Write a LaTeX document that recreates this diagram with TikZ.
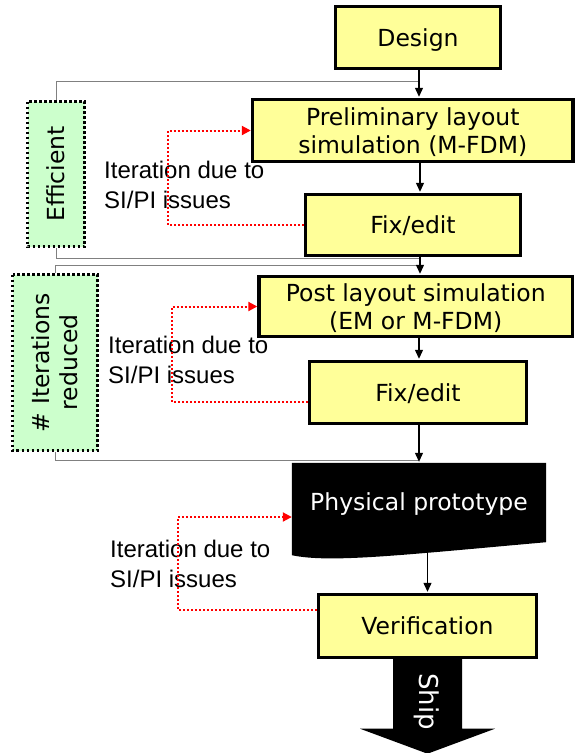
\documentclass[tikz,border=0pt]{standalone}
\usepackage{fontspec}
\setmainfont{DejaVu Sans}
\newfontfamily\labelfont{Liberation Sans}
\usetikzlibrary{arrows.meta,calc}
\definecolor{boxyellow}{HTML}{FFFF99}
\definecolor{notegreen}{HTML}{CCFFCC}
\definecolor{spangray}{HTML}{808080}

\begin{document}
\begin{tikzpicture}[x=1pt,y=-1pt,
  stepbox/.style={draw=black, line width=3.4pt, fill=boxyellow, inner sep=0pt,
    align=center, text depth=0pt, font=\fontsize{23.5}{28}\selectfont},
  notebox/.style={draw=black, line width=3pt, dash pattern=on 2.5pt off 2.5pt,
    fill=notegreen, inner sep=0pt, align=center, rotate=90,
    font=\fontsize{23.5}{28}\selectfont},
  flow/.style={line width=1.2pt, shorten >=1pt, -{Triangle[length=9pt,width=8pt]}},
  loopback/.style={draw=red, line width=2pt, dash pattern=on 2pt off 2pt,
    -{Triangle[length=9pt,width=9pt]}},
  span/.style={draw=spangray, line width=1pt},
  iterlabel/.style={align=left, inner sep=0pt, anchor=base west,
    font=\labelfont\fontsize{24}{30}\selectfont}
]
\useasboundingbox (0,0) rectangle (575,753);

% main flow
\node[stepbox, minimum width=165, minimum height=62] (design) at (418,37.5) {Design};
\node[stepbox, minimum width=320.5, minimum height=62] (prelim) at (412.75,130.5)
  {Preliminary layout\\simulation (M-FDM)};
\node[stepbox, minimum width=215, minimum height=61] (fix1) at (413,225) {Fix/edit};
\node[stepbox, minimum width=313.5, minimum height=60] (post) at (415.75,306.5)
  {Post layout simulation\\(EM or M-FDM)};
\node[stepbox, minimum width=217, minimum height=62] (fix2) at (418,392.5) {Fix/edit};

% physical prototype: document shape with a wavy lower edge
\node[inner sep=0pt, minimum width=254, minimum height=79] (phys) at (419,502.5) {};
\fill[black] (phys.north west) -- (phys.north east) -- (phys.south east)
  .. controls ($(phys.south west)+(108,13)$) and ($(phys.south west)+(38,21)$)
  .. ($(phys.south west)+(0,13)$) -- cycle;
\node[text=white, inner sep=0pt, font=\fontsize{23.5}{28}\selectfont] (physlabel)
  at ($(phys.center)+(0,1.5)$) {Physical prototype};

\node[stepbox, minimum width=218, minimum height=63] (verif) at (427.5,626) {Verification};

% ship arrow
\fill[black] ($(verif.south)+(-34.5,0)$) -- ($(verif.south)+(-34.5,69.5)$)
  -- ($(verif.south)+(-67.5,69.5)$) -- ($(verif.south)+(0,94.5)$)
  -- ($(verif.south)+(67.5,69.5)$) -- ($(verif.south)+(34.5,69.5)$)
  -- ($(verif.south)+(34.5,0)$) -- cycle;
\node[text=white, rotate=-90, inner sep=0pt, font=\fontsize{26}{30}\selectfont]
  (shiplabel) at ($(verif.south)+(-1,42.5)$) {Ship};

% side notes
\node[notebox, minimum width=145, minimum height=57] (eff) at (56,174) {Efficient};
\node[notebox, minimum width=176, minimum height=85] (iter) at (55,362.5)
  {\# Iterations\\reduced};

% bracket lines joining the side notes to the flow
\coordinate (jA) at (419,81);
\coordinate (jB) at (420,258);
\coordinate (jC) at (420,265);
\coordinate (jD) at (419,460);
\draw[span] (eff.east) |- (jA);
\draw[span] (eff.west) |- (jB);
\draw[span] (iter.east) |- (jC);
\draw[span] (iter.west) |- (jD);

% flow arrows
\draw[flow] (design.south -| jA) -- (prelim.north -| jA);
\draw[flow] (prelim.south -| jB) -- (fix1.north -| jB);
\draw[flow] (fix1.south -| jB) -- (post.north -| jB);
\draw[flow] (post.south -| jD) -- (fix2.north -| jD);
\draw[flow] (fix2.south -| jD) -- (phys.north -| jD);
\draw[flow] (verif.north |- phys.south) -- (verif.north);

% iteration labels (anchored at the baseline of the last line)
\node[iterlabel] (why1) at (104,208) {Iteration due to\\SI/PI issues};
\node[iterlabel] (why2) at (108,383) {Iteration due to\\SI/PI issues};
\node[iterlabel] (why3) at (110,587) {Iteration due to\\SI/PI issues};

% iteration loops
\coordinate (r1) at (168,0);
\coordinate (r2) at (172,0);
\coordinate (r3) at (178,0);
\coordinate (f2out) at ([yshift=-9.5pt]fix2.west);
\coordinate (vout) at ([yshift=16pt]verif.west);
\coordinate (pin) at ([yshift=-14.5pt]phys.west);
\draw[loopback] (fix1.west) -- (fix1.west -| r1) |- (prelim.west);
\draw[loopback] (f2out) -- (f2out -| r2) |- (post.west);
\draw[loopback] (vout) -- (vout -| r3) |- (pin);
\end{tikzpicture}
\end{document}
